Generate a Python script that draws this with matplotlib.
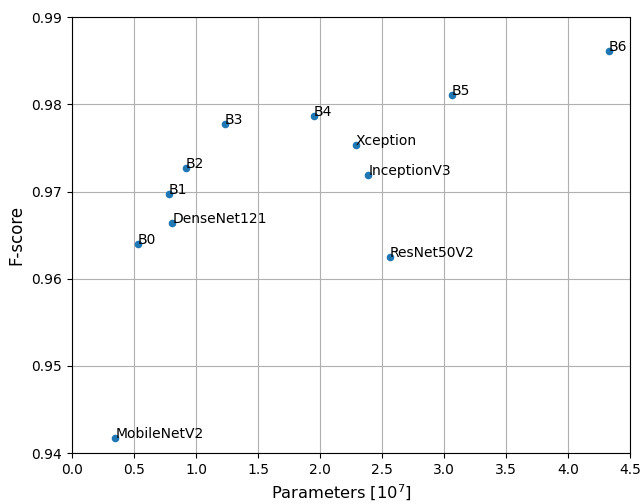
import matplotlib
matplotlib.use('Agg')
import matplotlib.pyplot as plt

# model names, parameter counts (x 10^7) and F-scores
models = ['MobileNetV2', 'B0', 'DenseNet121', 'B1', 'B2', 'B3', 'B4',
          'Xception', 'InceptionV3', 'ResNet50V2', 'B5', 'B6']
params = [0.35, 0.53, 0.81, 0.78, 0.92, 1.23, 1.95,
          2.29, 2.39, 2.56, 3.06, 4.33]
fscores = [0.9417, 0.9640, 0.9664, 0.9697, 0.9727, 0.9778, 0.9787,
           0.9753, 0.9719, 0.9625, 0.9811, 0.9861]

fig, ax = plt.subplots(figsize=(6.43, 5.04), dpi=100)
fig.subplots_adjust(left=0.112, right=0.98, top=0.966, bottom=0.101)

ax.scatter(params, fscores, s=20, color='tab:blue', zorder=3)
for name, x, y in zip(models, params, fscores):
    ax.text(x, y, name, fontsize=10)

ax.set_xlim(0, 4.5)
ax.set_ylim(0.94, 0.99)
ax.set_xticks([0.0, 0.5, 1.0, 1.5, 2.0, 2.5, 3.0, 3.5, 4.0, 4.5])
ax.set_yticks([0.94, 0.95, 0.96, 0.97, 0.98, 0.99])
ax.grid(True, color='#b0b0b0', linewidth=0.8)
ax.set_axisbelow(True)
ax.set_xlabel(r'Parameters [$10^7$]', fontsize=11.7)
ax.set_ylabel('F-score', fontsize=12)
# label sits a little left of centre in the original
ax.xaxis.set_label_coords(0.482, -0.068)

plt.savefig('out.png', dpi=100)
